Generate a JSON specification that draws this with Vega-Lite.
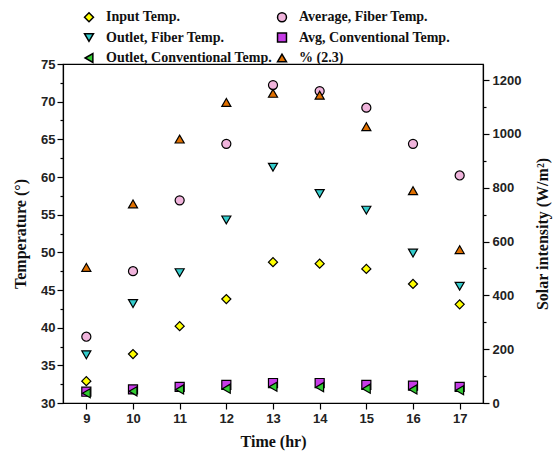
{
  "$schema": "https://vega.github.io/schema/vega-lite/v6.json",
  "width": 420,
  "height": 339,
  "autosize": {"type": "none"},
  "padding": {"left": 63, "top": 64, "right": 74, "bottom": 55},
  "background": "white",
  "config": {
    "view": {"stroke": "black", "strokeWidth": 1.2},
    "axis": {
      "grid": false,
      "domainColor": "black",
      "domainWidth": 1.2,
      "tickColor": "black",
      "tickWidth": 1.2,
      "labelFont": "Liberation Sans",
      "labelFontWeight": "bold",
      "labelFontSize": 13,
      "labelColor": "#222222",
      "titleFont": "Liberation Serif",
      "titleFontWeight": "bold",
      "titleFontSize": 16,
      "titleColor": "#111111"
    },
    "legend": {
      "title": null, "orient": "none", "legendX": 19, "legendY": -54, "columns": 2, "direction": "horizontal",
      "columnPadding": 2, "rowPadding": 4.5, "labelFont": "Liberation Serif", "labelFontWeight": "bold",
      "labelFontSize": 14, "labelColor": "#111111", "labelOffset": 10, "symbolSize": 80,
      "labelLimit": 300, "symbolStrokeWidth": 1.5, "symbolStrokeColor": "black"
    }
  },
  "datasets": {
    "temp": [
      {"series": "Input Temp.", "hour": 9, "value": 32.9},
      {"series": "Input Temp.", "hour": 10, "value": 36.5},
      {"series": "Input Temp.", "hour": 11, "value": 40.2},
      {"series": "Input Temp.", "hour": 12, "value": 43.8},
      {"series": "Input Temp.", "hour": 13, "value": 48.7},
      {"series": "Input Temp.", "hour": 14, "value": 48.5},
      {"series": "Input Temp.", "hour": 15, "value": 47.8},
      {"series": "Input Temp.", "hour": 16, "value": 45.8},
      {"series": "Input Temp.", "hour": 17, "value": 43.1},
      {"series": "Average, Fiber Temp.", "hour": 9, "value": 38.8},
      {"series": "Average, Fiber Temp.", "hour": 10, "value": 47.5},
      {"series": "Average, Fiber Temp.", "hour": 11, "value": 56.9},
      {"series": "Average, Fiber Temp.", "hour": 12, "value": 64.4},
      {"series": "Average, Fiber Temp.", "hour": 13, "value": 72.2},
      {"series": "Average, Fiber Temp.", "hour": 14, "value": 71.4},
      {"series": "Average, Fiber Temp.", "hour": 15, "value": 69.2},
      {"series": "Average, Fiber Temp.", "hour": 16, "value": 64.4},
      {"series": "Average, Fiber Temp.", "hour": 17, "value": 60.2},
      {"series": "Outlet, Fiber Temp.", "hour": 9, "value": 36.4},
      {"series": "Outlet, Fiber Temp.", "hour": 10, "value": 43.2},
      {"series": "Outlet, Fiber Temp.", "hour": 11, "value": 47.3},
      {"series": "Outlet, Fiber Temp.", "hour": 12, "value": 54.3},
      {"series": "Outlet, Fiber Temp.", "hour": 13, "value": 61.3},
      {"series": "Outlet, Fiber Temp.", "hour": 14, "value": 57.8},
      {"series": "Outlet, Fiber Temp.", "hour": 15, "value": 55.6},
      {"series": "Outlet, Fiber Temp.", "hour": 16, "value": 49.9},
      {"series": "Outlet, Fiber Temp.", "hour": 17, "value": 45.5},
      {"series": "Avg, Conventional Temp.", "hour": 9, "value": 31.5},
      {"series": "Avg, Conventional Temp.", "hour": 10, "value": 31.8},
      {"series": "Avg, Conventional Temp.", "hour": 11, "value": 32.15},
      {"series": "Avg, Conventional Temp.", "hour": 12, "value": 32.4},
      {"series": "Avg, Conventional Temp.", "hour": 13, "value": 32.65},
      {"series": "Avg, Conventional Temp.", "hour": 14, "value": 32.65},
      {"series": "Avg, Conventional Temp.", "hour": 15, "value": 32.4},
      {"series": "Avg, Conventional Temp.", "hour": 16, "value": 32.3},
      {"series": "Avg, Conventional Temp.", "hour": 17, "value": 32.15},
      {"series": "Outlet, Conventional Temp.", "hour": 9, "value": 31.3},
      {"series": "Outlet, Conventional Temp.", "hour": 10, "value": 31.55},
      {"series": "Outlet, Conventional Temp.", "hour": 11, "value": 31.8},
      {"series": "Outlet, Conventional Temp.", "hour": 12, "value": 31.9},
      {"series": "Outlet, Conventional Temp.", "hour": 13, "value": 32.15},
      {"series": "Outlet, Conventional Temp.", "hour": 14, "value": 32.1},
      {"series": "Outlet, Conventional Temp.", "hour": 15, "value": 31.9},
      {"series": "Outlet, Conventional Temp.", "hour": 16, "value": 31.8},
      {"series": "Outlet, Conventional Temp.", "hour": 17, "value": 31.7}
    ],
    "solar": [
      {"series": "% (2.3)", "hour": 9, "solar": 504},
      {"series": "% (2.3)", "hour": 10, "solar": 740},
      {"series": "% (2.3)", "hour": 11, "solar": 981},
      {"series": "% (2.3)", "hour": 12, "solar": 1117},
      {"series": "% (2.3)", "hour": 13, "solar": 1151},
      {"series": "% (2.3)", "hour": 14, "solar": 1144},
      {"series": "% (2.3)", "hour": 15, "solar": 1027},
      {"series": "% (2.3)", "hour": 16, "solar": 789},
      {"series": "% (2.3)", "hour": 17, "solar": 570}
    ]
  },
  "layer": [
    {
      "data": {"name": "temp"},
      "mark": {"type": "point", "filled": true, "strokeWidth": 1.2, "size": 82, "opacity": 1},
      "encoding": {
        "x": {
          "field": "hour", "type": "quantitative",
          "scale": {"domain": [8.5, 17.5], "nice": false, "zero": false},
          "axis": {
            "title": "Time (hr)",
            "values": [9, 9.5, 10, 10.5, 11, 11.5, 12, 12.5, 13, 13.5, 14, 14.5, 15, 15.5, 16, 16.5, 17],
            "labelExpr": "datum.value % 1 === 0 ? datum.label : ''",
            "tickSize": {"condition": {"test": "datum.value % 1 === 0", "value": 6}, "value": 3},
            "labelPadding": 3,
            "titlePadding": 8
          }
        },
        "y": {
          "field": "value", "type": "quantitative",
          "scale": {"domain": [30, 75], "nice": false, "zero": false},
          "axis": {
            "title": "Temperature (°)",
            "values": [30, 32.5, 35, 37.5, 40, 42.5, 45, 47.5, 50, 52.5, 55, 57.5, 60, 62.5, 65, 67.5, 70, 72.5, 75],
            "labelExpr": "datum.value % 5 === 0 ? datum.label : ''",
            "tickSize": {"condition": {"test": "datum.value % 5 === 0", "value": 6}, "value": 3},
            "labelPadding": 2,
            "titlePadding": 12
          }
        },
        "shape": {
          "field": "series", "type": "nominal",
          "scale": {
            "domain": ["Input Temp.", "Average, Fiber Temp.", "Outlet, Fiber Temp.", "Avg, Conventional Temp.", "Outlet, Conventional Temp.", "% (2.3)"],
            "range": ["diamond", "circle", "triangle-down", "square", "triangle-left", "triangle-up"]
          },
          "legend": {
            "encode": {"symbols": {"update": {"stroke": {"value": "black"}, "strokeWidth": {"value": 1.5}}}}
          }
        },
        "fill": {
          "field": "series", "type": "nominal",
          "scale": {
            "domain": ["Input Temp.", "Average, Fiber Temp.", "Outlet, Fiber Temp.", "Avg, Conventional Temp.", "Outlet, Conventional Temp.", "% (2.3)"],
            "range": ["#ffff00", "#f0b4dc", "#33cccc", "#c63ce6", "#33cc33", "#e07000"]
          },
          "legend": {
            "encode": {"symbols": {"update": {"stroke": {"value": "black"}, "strokeWidth": {"value": 1.5}}}}
          }
        },
        "stroke": {
          "field": "series", "type": "nominal",
          "scale": {
            "domain": ["Input Temp.", "Average, Fiber Temp.", "Outlet, Fiber Temp.", "Avg, Conventional Temp.", "Outlet, Conventional Temp.", "% (2.3)"],
            "range": ["black", "black", "black", "black", "black", "black"]
          }
        }
      }
    },
    {
      "data": {"name": "solar"},
      "mark": {"type": "point", "filled": true, "strokeWidth": 1.2, "size": 82, "opacity": 1},
      "encoding": {
        "x": {"field": "hour", "type": "quantitative", "scale": {"domain": [8.5, 17.5], "nice": false, "zero": false}},
        "y": {
          "field": "solar", "type": "quantitative",
          "scale": {"domain": [0, 1260], "nice": false, "zero": false},
          "axis": {
            "orient": "right",
            "title": "Solar intensity (W/m²)",
            "titleAngle": 270,
            "values": [0, 100, 200, 300, 400, 500, 600, 700, 800, 900, 1000, 1100, 1200],
            "labelExpr": "datum.value % 200 === 0 ? datum.label : ''",
            "tickSize": {"condition": {"test": "datum.value % 200 === 0", "value": 6}, "value": 3},
            "labelPadding": 3,
            "titlePadding": 30,
            "format": "d"
          }
        },
        "shape": {"field": "series", "type": "nominal"},
        "fill": {"field": "series", "type": "nominal"},
        "stroke": {"field": "series", "type": "nominal"}
      }
    }
  ],
  "resolve": {"scale": {"y": "independent"}}
}
